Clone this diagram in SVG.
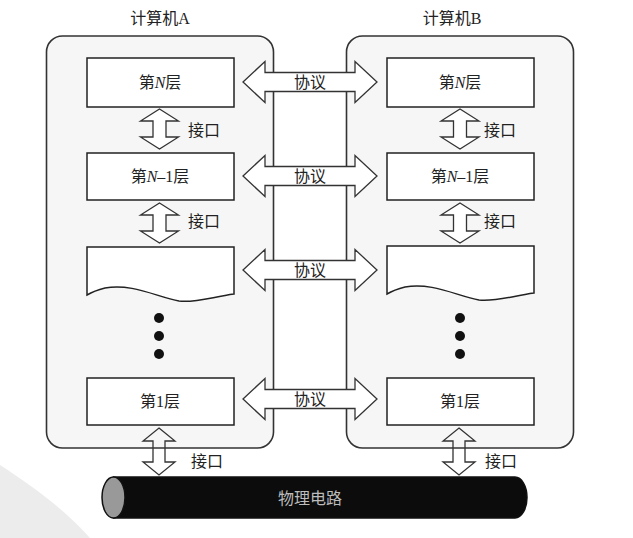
<svg xmlns="http://www.w3.org/2000/svg" width="633" height="538" viewBox="0 0 633 538">
<style>
.t{font-family:"Liberation Serif","Noto Sans CJK SC",serif;font-size:16px;fill:#222;text-anchor:middle;dominant-baseline:central}
.i{font-style:italic}
.box{fill:#fff;stroke:#222;stroke-width:1.5}
.comp{fill:#f6f6f6;stroke:#333;stroke-width:1.6}
.arr{fill:#fff;stroke:#333;stroke-width:1.3;stroke-linejoin:miter}
.arrn{fill:none;stroke:#333;stroke-width:1.3}
.dot{fill:#111}
</style>
<defs>
<path id="va" d="M0,0 L19,12 L6.5,12 L6.5,28 L19,28 L0,40 L-19,28 L-6.5,28 L-6.5,12 L-19,12 Z"/>
<path id="ha" d="M0,0 L22,-20.5 L22,-9.5 L112,-9.5 L112,-20.5 L134,0 L112,20.5 L112,9.5 L22,9.5 L22,20.5 Z"/>
<path id="ba" d="M0,0 L16,13 L6,13 L6,34 L16,34 L0,47 L-16,34 L-6,34 L-6,13 L-16,13 Z"/>
<path id="wave" d="M0,0 L147,0 L147,47 C125,50 108,56 92,54 C70,50 45,36 18,41 C10,43 5,45 0,48 Z"/>
</defs>
<rect width="633" height="538" fill="#fff"/>
<path d="M0,465 C30,485 60,505 90,538 L0,538 Z" fill="#ececec"/>

<g id="computerA">
<rect class="comp" x="46.5" y="36" width="227" height="412" rx="16"/>
<text class="t" x="160" y="18">计算机A</text>
</g>
<g id="computerB">
<rect class="comp" x="346.5" y="36" width="227" height="412" rx="16"/>
<text class="t" x="452" y="18">计算机B</text>
</g>

<g id="A_layerN">
<rect class="box" x="87" y="58" width="147" height="49"/>
<text class="t" x="160" y="82">第<tspan class="i">N</tspan>层</text>
</g>
<g id="A_layerN1">
<rect class="box" x="87" y="153" width="147" height="47"/>
<text class="t" x="160" y="176">第<tspan class="i">N</tspan>–1层</text>
</g>
<g id="A_layerX">
<use href="#wave" class="box" x="87" y="247"/>
</g>
<g id="A_dots">
<circle class="dot" cx="159" cy="318" r="5"/>
<circle class="dot" cx="159" cy="336" r="5"/>
<circle class="dot" cx="159" cy="354" r="5"/>
</g>
<g id="A_layer1">
<rect class="box" x="87" y="378" width="147" height="47"/>
<text class="t" x="160" y="401">第1层</text>
</g>

<g id="B_layerN">
<rect class="box" x="387" y="58" width="147" height="49"/>
<text class="t" x="460" y="82">第<tspan class="i">N</tspan>层</text>
</g>
<g id="B_layerN1">
<rect class="box" x="387" y="153" width="147" height="47"/>
<text class="t" x="460" y="176">第<tspan class="i">N</tspan>–1层</text>
</g>
<g id="B_layerX">
<use href="#wave" class="box" x="387" y="246"/>
</g>
<g id="B_dots">
<circle class="dot" cx="460" cy="318" r="5"/>
<circle class="dot" cx="460" cy="336" r="5"/>
<circle class="dot" cx="460" cy="354" r="5"/>
</g>
<g id="B_layer1">
<rect class="box" x="387" y="378" width="147" height="47"/>
<text class="t" x="460" y="401">第1层</text>
</g>

<g id="circuit">
<path d="M113.5,477 L515,477 A12,20.5 0 0 1 515,518 L113.5,518 Z" fill="#0c0c0c" stroke="#111" stroke-width="1.5"/>
<ellipse cx="113.5" cy="497.5" rx="11.5" ry="20.5" fill="#999" stroke="#111" stroke-width="1.5"/>
<text class="t" x="310" y="498" style="fill:#bdbdbd">物理电路</text>
</g>

<g id="connectors">
<use href="#va" class="arr" x="159.5" y="109"/>
<use href="#va" class="arr" x="159.5" y="203"/>
<use href="#va" class="arr" x="460" y="109"/>
<use href="#va" class="arr" x="460" y="203"/>
<use href="#ha" class="arr" x="243" y="82"/>
<use href="#ha" class="arr" x="243" y="176"/>
<use href="#ha" class="arr" x="243" y="270"/>
<use href="#ha" class="arr" x="243" y="399"/>
<use href="#ba" class="arrn" x="159" y="428"/>
<use href="#ba" class="arrn" x="459" y="428"/>
<text class="t" x="204" y="130">接口</text>
<text class="t" x="204" y="221">接口</text>
<text class="t" x="500" y="130">接口</text>
<text class="t" x="500" y="221">接口</text>
<text class="t" x="207" y="461">接口</text>
<text class="t" x="501" y="461">接口</text>
<text class="t" x="310" y="82">协议</text>
<text class="t" x="310" y="176">协议</text>
<text class="t" x="310" y="270">协议</text>
<text class="t" x="310" y="399">协议</text>
</g>
</svg>
